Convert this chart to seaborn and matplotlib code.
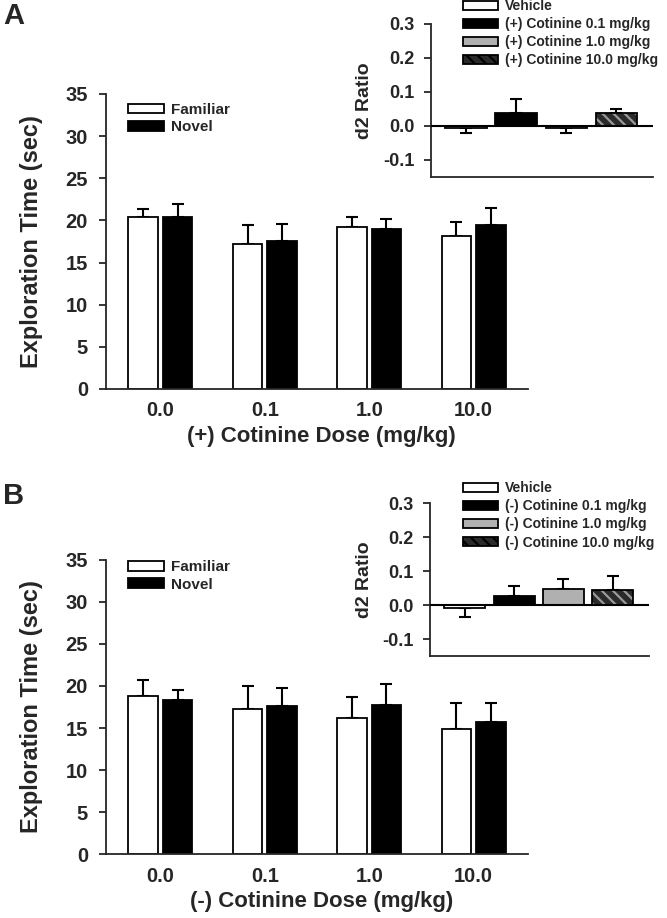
import numpy as np
import pandas as pd
import matplotlib
matplotlib.use("Agg")
import matplotlib.pyplot as plt
from matplotlib.patches import Patch, Rectangle
import seaborn as sns

# ---------------- data ----------------
doses = ["0.0", "0.1", "1.0", "10.0"]
objects = ["Familiar", "Novel"]

A_familiar = [20.4, 17.2, 19.2, 18.1]
A_familiar_err = [1.0, 2.3, 1.2, 1.7]
A_novel = [20.45, 17.6, 19.0, 19.5]
A_novel_err = [1.5, 2.0, 1.2, 1.95]

B_familiar = [18.8, 17.2, 16.2, 14.9]
B_familiar_err = [1.9, 2.8, 2.45, 3.1]
B_novel = [18.35, 17.6, 17.7, 15.75]
B_novel_err = [1.2, 2.15, 2.5, 2.2]

A_groups = ["Vehicle", "(+) Cotinine 0.1 mg/kg", "(+) Cotinine 1.0 mg/kg", "(+) Cotinine 10.0 mg/kg"]
A_d2 = [-0.005, 0.037, -0.007, 0.037]
A_d2_err = [0.017, 0.042, 0.015, 0.014]

B_groups = ["Vehicle", "(-) Cotinine 0.1 mg/kg", "(-) Cotinine 1.0 mg/kg", "(-) Cotinine 10.0 mg/kg"]
B_d2 = [-0.008, 0.028, 0.048, 0.045]
B_d2_err = [0.026, 0.030, 0.028, 0.041]

xlabels = ["(+) Cotinine Dose (mg/kg)", "(-) Cotinine Dose (mg/kg)"]
panel_letters = ["A", "B"]

# ---------------- style ----------------
sns.set_style("ticks")
plt.rcParams["font.family"] = ["Liberation Sans", "DejaVu Sans"]
plt.rcParams["font.weight"] = "bold"
plt.rcParams["axes.labelweight"] = "bold"
plt.rcParams["axes.unicode_minus"] = False
plt.rcParams["axes.linewidth"] = 1.3
plt.rcParams["hatch.linewidth"] = 1.6

LW = 1.3
W, H = 667, 918
fig = plt.figure(figsize=(W / 100, H / 100), dpi=100)


def frac_rect(left, right, top, bottom):
    return [left / W, 1 - bottom / H, (right - left) / W, (bottom - top) / H]


def add_errorbars(ax, containers, errs_list):
    for cont, errs in zip(containers, errs_list):
        for bar, e in zip(cont, errs):
            x = bar.get_x() + bar.get_width() / 2
            h = bar.get_height()
            top = bar.get_y() + h
            if top >= 0 and h >= 0:
                y = top
                yerr = [[0], [e]]
            else:
                y = min(bar.get_y(), top)  # negative bar bottom
                yerr = [[e], [0]]
            ax.errorbar(x, y, yerr=yerr, fmt="none", ecolor="black",
                        elinewidth=1.5, capsize=4.3, capthick=1.5, zorder=1)


def main_panel(rect, fam, fam_err, nov, nov_err, xlabel, leg_top):
    ax = fig.add_axes(rect)
    df = pd.DataFrame({
        "dose": doses * 2,
        "object": [objects[0]] * 4 + [objects[1]] * 4,
        "time": fam + nov,
    })
    sns.barplot(data=df, x="dose", y="time", hue="object", order=doses,
                hue_order=objects, palette={"Familiar": "white", "Novel": "black"},
                edgecolor="black", linewidth=LW, width=0.66, gap=0.15,
                errorbar=None, legend=False, ax=ax, zorder=2)
    add_errorbars(ax, ax.containers, [fam_err, nov_err])
    ax.set_ylim(0, 35)
    ax.set_xlim(-0.52, 3.52)
    ax.set_yticks(range(0, 36, 5))
    sns.despine(ax=ax)
    ax.tick_params(axis="y", length=5, width=LW, pad=8, labelsize=14.5)
    ax.tick_params(axis="x", length=0, pad=9, labelsize=14.5)
    for t in ax.get_xticklabels() + ax.get_yticklabels():
        t.set_fontweight("bold")
    ax.set_ylabel("Exploration Time (sec)", fontsize=17, fontweight="bold")
    ax.yaxis.set_label_coords(-0.149, 0.5)
    ax.set_xlabel(xlabel, fontsize=16, fontweight="bold", va="top")
    ax.xaxis.set_label_coords(0.51, -0.125)
    handles = [Patch(facecolor="white", edgecolor="black", linewidth=LW),
               Patch(facecolor="black", edgecolor="black", linewidth=LW)]
    ax.legend(handles, objects, loc="upper left", bbox_to_anchor=(0.052, leg_top),
              frameon=False, handlelength=2.35, handleheight=0.6,
              handletextpad=0.5, labelspacing=0.22, borderpad=0, borderaxespad=0,
              prop={"weight": "bold", "size": 11})
    return ax


def inset_panel(rect, groups, vals, errs, leg_anchor):
    ax = fig.add_axes(rect)
    colors = ["white", "black", "#b0b0b0", "#2a2a2a"]
    df = pd.DataFrame({"group": groups, "d2": vals})
    sns.barplot(data=df, x="group", y="d2", hue="group", order=groups,
                hue_order=groups, palette=dict(zip(groups, colors)),
                edgecolor="black", linewidth=LW, width=0.83, dodge=False,
                errorbar=None, legend=False, ax=ax, zorder=2)
    bars = [c[0] for c in ax.containers]
    # hatch the 10.0 bar
    hb = bars[3]
    hb.set_hatch("\\\\\\")
    hb.set_edgecolor("#9a9a9a")
    hb.set_linewidth(0)
    ax.add_patch(Rectangle((hb.get_x(), hb.get_y()), hb.get_width(), hb.get_height(),
                           fill=False, edgecolor="black", linewidth=LW, zorder=3))
    add_errorbars(ax, [[b] for b in bars], [[e] for e in errs])
    ax.axhline(0, color="black", linewidth=1.5, zorder=4)
    ax.set_ylim(-0.15, 0.3)
    ax.set_xlim(-0.7, 3.73)
    ax.set_yticks([-0.1, 0.0, 0.1, 0.2, 0.3])
    ax.set_yticklabels([f"{v:.1f}" for v in [-0.1, 0.0, 0.1, 0.2, 0.3]])
    ax.set_xticks([])
    ax.set_xlabel("")
    sns.despine(ax=ax)
    ax.tick_params(axis="y", length=5, width=LW, pad=7, labelsize=13)
    for t in ax.get_yticklabels():
        t.set_fontweight("bold")
    ax.set_ylabel("d2 Ratio", fontsize=14, fontweight="bold")
    ax.yaxis.set_label_coords(-0.261, 0.5)
    handles = [Patch(facecolor="white", edgecolor="black", linewidth=LW),
               Patch(facecolor="black", edgecolor="black", linewidth=LW),
               Patch(facecolor="#b0b0b0", edgecolor="black", linewidth=LW),
               Patch(facecolor="#2a2a2a", edgecolor="black", linewidth=LW, hatch="\\\\\\")]
    fig.legend(handles, groups, loc="upper left", bbox_to_anchor=leg_anchor,
               bbox_transform=fig.transFigure, frameon=False,
               handlelength=2.5, handleheight=0.6, handletextpad=0.55,
               labelspacing=0.3, borderpad=0, borderaxespad=0,
               prop={"weight": "bold", "size": 10})
    return ax


# Panel A
main_panel(frac_rect(106, 528, 94, 389), A_familiar, A_familiar_err, A_novel,
           A_novel_err, xlabels[0], 0.97)
inset_panel(frac_rect(431, 653, 24, 177), A_groups, A_d2, A_d2_err,
            (463 / W, 1.0 + 1 / H))

# Panel B
main_panel(frac_rect(106, 528, 559.6, 854.3), B_familiar, B_familiar_err, B_novel,
           B_novel_err, xlabels[1], 0.998)
inset_panel(frac_rect(430, 649, 503.3, 656.3), B_groups, B_d2, B_d2_err,
            (463 / W, 1 - 481 / H))

fig.text(3 / W, 1 - 2 / H, panel_letters[0], fontsize=21, fontweight="bold",
         ha="left", va="top")
fig.text(3 / W, 1 - 482 / H, panel_letters[1], fontsize=21, fontweight="bold",
         ha="left", va="top")

fig.savefig("out.png", dpi=100)
